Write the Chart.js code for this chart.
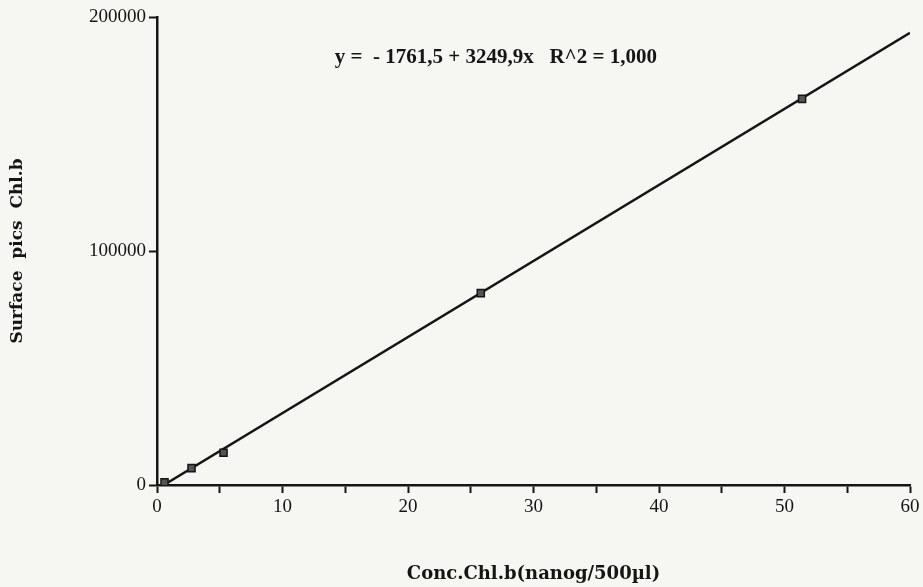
<!DOCTYPE html>
<html>
<head>
<meta charset="utf-8">
<script src="https://cdn.jsdelivr.net/npm/chart.js@4/dist/chart.umd.min.js"></script>
<style>
  html, body { margin: 0; padding: 0; background: #f6f6f3; }
  #wrap { width: 923px; height: 587px; }
</style>
</head>
<body>
<div id="wrap"><canvas id="chart"></canvas></div>
<script>
// measured standards: concentration (nanog/500µl) vs peak area
const concValues = [0.6, 2.75, 5.3, 25.8, 51.4];
const surfaceValues = [1200, 7200, 13800, 82000, 165000];

// end points of the regression line y = -1761,5 + 3249,9x
const fitX = [0.54, 60];
const fitY = [0, 193233];

const equationText = 'y =  - 1761,5 + 3249,9x   R^2 = 1,000';
const equationAt = [27, 182500];

const xTitle = 'Conc.Chl.b(nanog/500µl)';
const yTitle = 'Surface  pics  Chl.b';

const serif = "'Liberation Serif', 'DejaVu Serif', serif";
const wideSerif = "'DejaVu Serif', 'Liberation Serif', serif";
const ink = '#151515';

const toPoints = function(xs, ys) {
  let pts = [];
  for (var i = 0; i < xs.length; i++) {
    pts.push({ x: xs[i], y: ys[i] });
  }
  return pts;
}

const paperAndNote = {
  id: 'paperAndNote',
  beforeDraw(chart) {
    const ctx = chart.ctx;
    ctx.save();
    ctx.fillStyle = '#f6f6f3';
    ctx.fillRect(0, 0, chart.width, chart.height);
    ctx.restore();
  },
  afterDraw(chart) {
    const ctx = chart.ctx;
    const px = chart.scales.x.getPixelForValue(equationAt[0]);
    const py = chart.scales.y.getPixelForValue(equationAt[1]);
    ctx.save();
    ctx.fillStyle = ink;
    ctx.font = 'bold 21px ' + serif;
    ctx.textAlign = 'center';
    ctx.textBaseline = 'middle';
    ctx.fillText(equationText, px, py);
    ctx.restore();
  }
};

const ctx = document.getElementById('chart').getContext('2d');
const chart = new Chart(ctx, {
  type: 'scatter',
  data: {
    datasets: [
      {
        label: 'fit',
        data: toPoints(fitX, fitY),
        showLine: true,
        borderColor: ink,
        borderWidth: 2.5,
        pointRadius: 0,
        order: 2
      },
      {
        label: 'standards',
        data: toPoints(concValues, surfaceValues),
        pointStyle: 'rect',
        pointRadius: 5,
        backgroundColor: '#555',
        borderColor: ink,
        borderWidth: 1.5,
        order: 1
      }
    ]
  },
  options: {
    responsive: true,
    maintainAspectRatio: false,
    animation: false,
    layout: { padding: { top: 17, right: 13, left: 0, bottom: 0 } },
    plugins: {
      legend: { display: false },
      tooltip: { enabled: false }
    },
    scales: {
      x: {
        type: 'linear',
        min: 0,
        max: 60,
        afterFit: function(scale) { scale.height = 102; },
        border: { color: ink, width: 2.5 },
        grid: {
          drawOnChartArea: false,
          drawTicks: true,
          tickLength: 8,
          tickColor: ink,
          tickWidth: 2
        },
        ticks: {
          stepSize: 5,
          color: ink,
          padding: 3,
          maxRotation: 0,
          font: { family: serif, size: 19 },
          callback: function(v) { return v % 10 === 0 ? v : ''; }
        },
        title: {
          display: true,
          text: xTitle,
          color: ink,
          font: { family: wideSerif, size: 18, weight: 'bold' },
          padding: { top: 0, bottom: 2 }
        }
      },
      y: {
        type: 'linear',
        min: 0,
        max: 200000,
        afterFit: function(scale) { scale.width = 157; },
        border: { color: ink, width: 2.5 },
        grid: {
          drawOnChartArea: false,
          drawTicks: true,
          tickLength: 8,
          tickColor: ink,
          tickWidth: 2
        },
        ticks: {
          stepSize: 100000,
          color: ink,
          padding: 3,
          font: { family: serif, size: 19 },
          callback: function(v) { return String(v); }
        },
        title: {
          display: true,
          text: yTitle,
          color: ink,
          font: { family: wideSerif, size: 17, weight: 'bold' },
          padding: { top: 7, bottom: 0 }
        }
      }
    }
  },
  plugins: [paperAndNote]
});
</script>
</body>
</html>
